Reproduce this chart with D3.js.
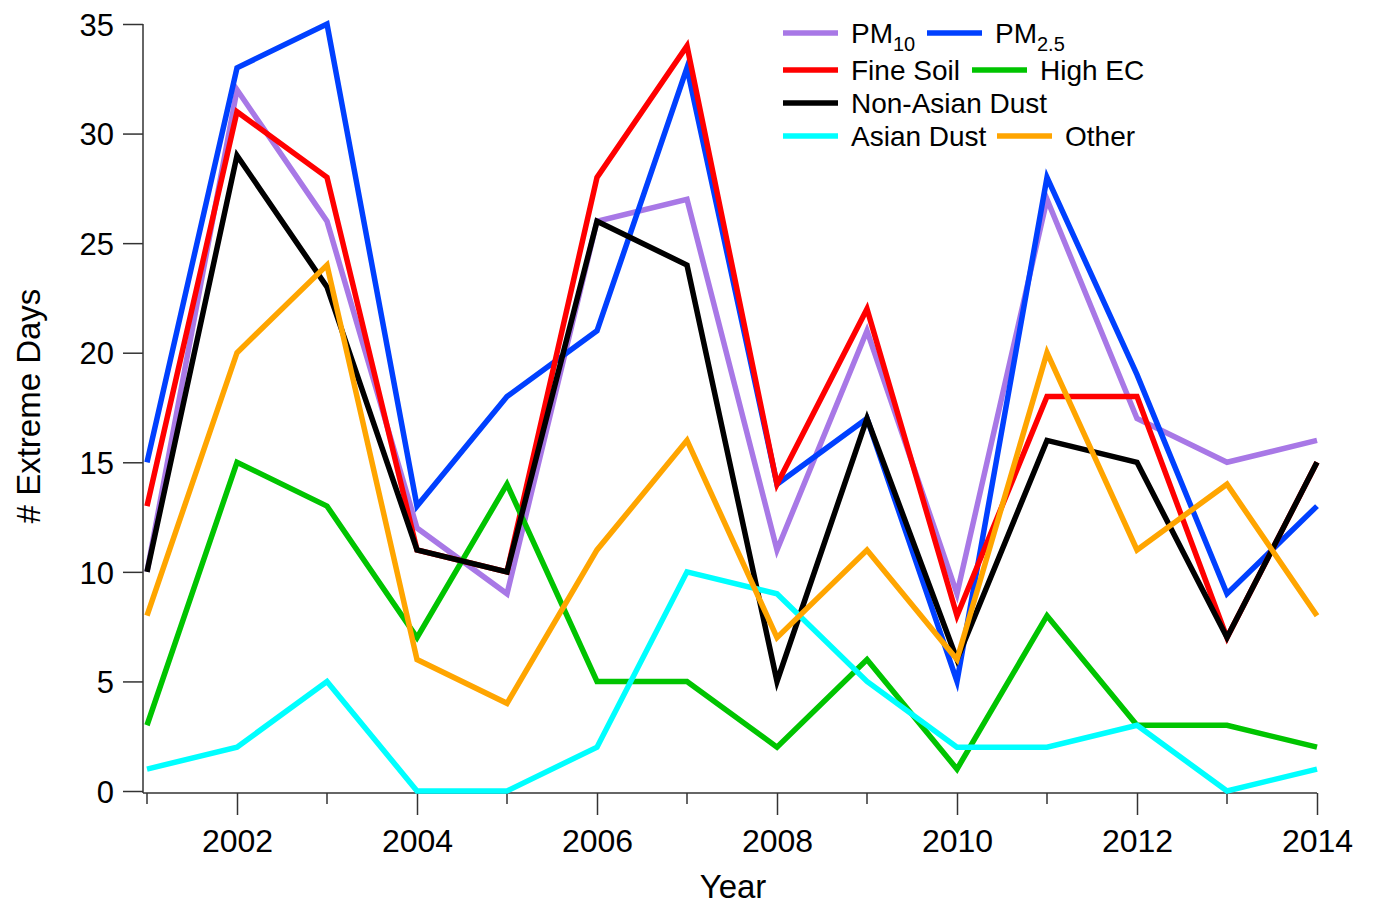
<!DOCTYPE html>
<html>
<head>
<meta charset="utf-8">
<script src="https://cdn.jsdelivr.net/npm/d3@7"></script>
<style>
  body { margin: 0; background: #fff; }
  svg text { font-family: "Liberation Sans", Arial, sans-serif; fill: #000; }
</style>
</head>
<body>
<div id="grafico"></div>
<script>
// data
const years = [2001, 2002, 2003, 2004, 2005, 2006, 2007, 2008, 2009, 2010, 2011, 2012, 2013, 2014]
const pm10 = [10, 32, 26, 12, 9, 26, 27, 11, 21, 9, 27, 17, 15, 16]
const pm25 = [15, 33, 35, 13, 18, 21, 33, 14, 17, 5, 28, 19, 9, 13]
const fineSoil = [13, 31, 28, 11, 10, 28, 34, 14, 22, 8, 18, 18, 7, 15]
const highEC = [3, 15, 13, 7, 14, 5, 5, 2, 6, 1, 8, 3, 3, 2]
const nonAsianDust = [10, 29, 23, 11, 10, 26, 24, 5, 17, 6, 16, 15, 7, 15]
const asianDust = [1, 2, 5, 0, 0, 2, 10, 9, 5, 2, 2, 3, 0, 1]
const other = [8, 20, 24, 6, 4, 11, 16, 7, 11, 6, 20, 11, 14, 8]

const yTicks = [0, 5, 10, 15, 20, 25, 30, 35]
const xLabelYears = [2002, 2004, 2006, 2008, 2010, 2012, 2014]

const series = [
  { name: "PM", sub: "10", values: pm10, color: "#a878e6" },
  { name: "PM", sub: "2.5", values: pm25, color: "#0040ff" },
  { name: "Fine Soil", values: fineSoil, color: "#ff0000" },
  { name: "High EC", values: highEC, color: "#00c400" },
  { name: "Non-Asian Dust", values: nonAsianDust, color: "#000000" },
  { name: "Asian Dust", values: asianDust, color: "#00ffff" },
  { name: "Other", values: other, color: "#ffa500" }
]

const ancho = 1373, alto = 906

const svg = d3.select("#grafico").append("svg")
  .attr("width", ancho)
  .attr("height", alto)

const x = d3.scaleLinear().domain([2001, 2014]).range([147, 1317])
const y = d3.scaleLinear().domain([0, 35]).range([791, 24])

// y axis
svg.append("g")
  .attr("transform", "translate(143,0)")
  .call(d3.axisLeft(y).tickValues(yTicks).tickSize(20).tickSizeOuter(0).tickPadding(9))
  .call(g => g.select(".domain").attr("d", "M0,24V793"))
  .call(g => g.selectAll("line").attr("stroke", "#333").attr("stroke-width", 1.5))
  .call(g => g.select(".domain").attr("stroke", "#333").attr("stroke-width", 1.5))
  .call(g => g.selectAll("text").style("font-size", "31px").attr("fill", "#000").attr("dy", "0.36em"))

// x axis with minor ticks on odd years
const xg = svg.append("g").attr("transform", "translate(0,793)")
xg.call(d3.axisBottom(x).tickValues(xLabelYears).tickFormat(d3.format("d")).tickSize(22).tickSizeOuter(0).tickPadding(14))
xg.select(".domain").attr("d", "M143,0H1317").attr("stroke", "#333").attr("stroke-width", 1.5)
xg.selectAll("line").attr("stroke", "#333").attr("stroke-width", 1.5)
xg.selectAll("text").style("font-size", "32px").attr("fill", "#000")
xg.selectAll(".minor")
  .data(years.filter(d => d % 2 === 1))
  .enter().append("line")
  .attr("x1", d => x(d)).attr("x2", d => x(d))
  .attr("y1", 0).attr("y2", 11)
  .attr("stroke", "#333").attr("stroke-width", 1.5)

// axis titles
svg.append("text")
  .attr("x", 733).attr("y", 898)
  .attr("text-anchor", "middle")
  .style("font-size", "33px")
  .text("Year")

svg.append("text")
  .attr("transform", "translate(40,406) rotate(-90)")
  .attr("text-anchor", "middle")
  .style("font-size", "33px")
  .text("# Extreme Days")

// lines
const line = d3.line()
  .x((d, i) => x(years[i]))
  .y(d => y(d))

svg.append("g").selectAll("path")
  .data(series)
  .enter().append("path")
  .attr("d", d => line(d.values))
  .attr("fill", "none")
  .attr("stroke", d => d.color)
  .attr("stroke-width", 5.5)
  .attr("stroke-linejoin", "miter")

// legend
const legendPos = [
  { lx: 783, ly: 33 }, { lx: 927, ly: 33 },
  { lx: 783, ly: 70 }, { lx: 972, ly: 70 },
  { lx: 783, ly: 103 },
  { lx: 783, ly: 136 }, { lx: 997, ly: 136 }
]

const leg = svg.append("g").selectAll("g")
  .data(series)
  .enter().append("g")
  .attr("transform", (d, i) => "translate(" + legendPos[i].lx + "," + legendPos[i].ly + ")")

leg.append("line")
  .attr("x1", 0).attr("x2", 55)
  .attr("stroke", d => d.color)
  .attr("stroke-width", 5.5)

const lt = leg.append("text")
  .attr("x", 68)
  .attr("y", 10)
  .style("font-size", "28px")

lt.append("tspan").text(d => d.name)
lt.filter(d => d.sub)
  .append("tspan")
  .attr("dy", 8)
  .style("font-size", "20px")
  .text(d => d.sub)
</script>
</body>
</html>
